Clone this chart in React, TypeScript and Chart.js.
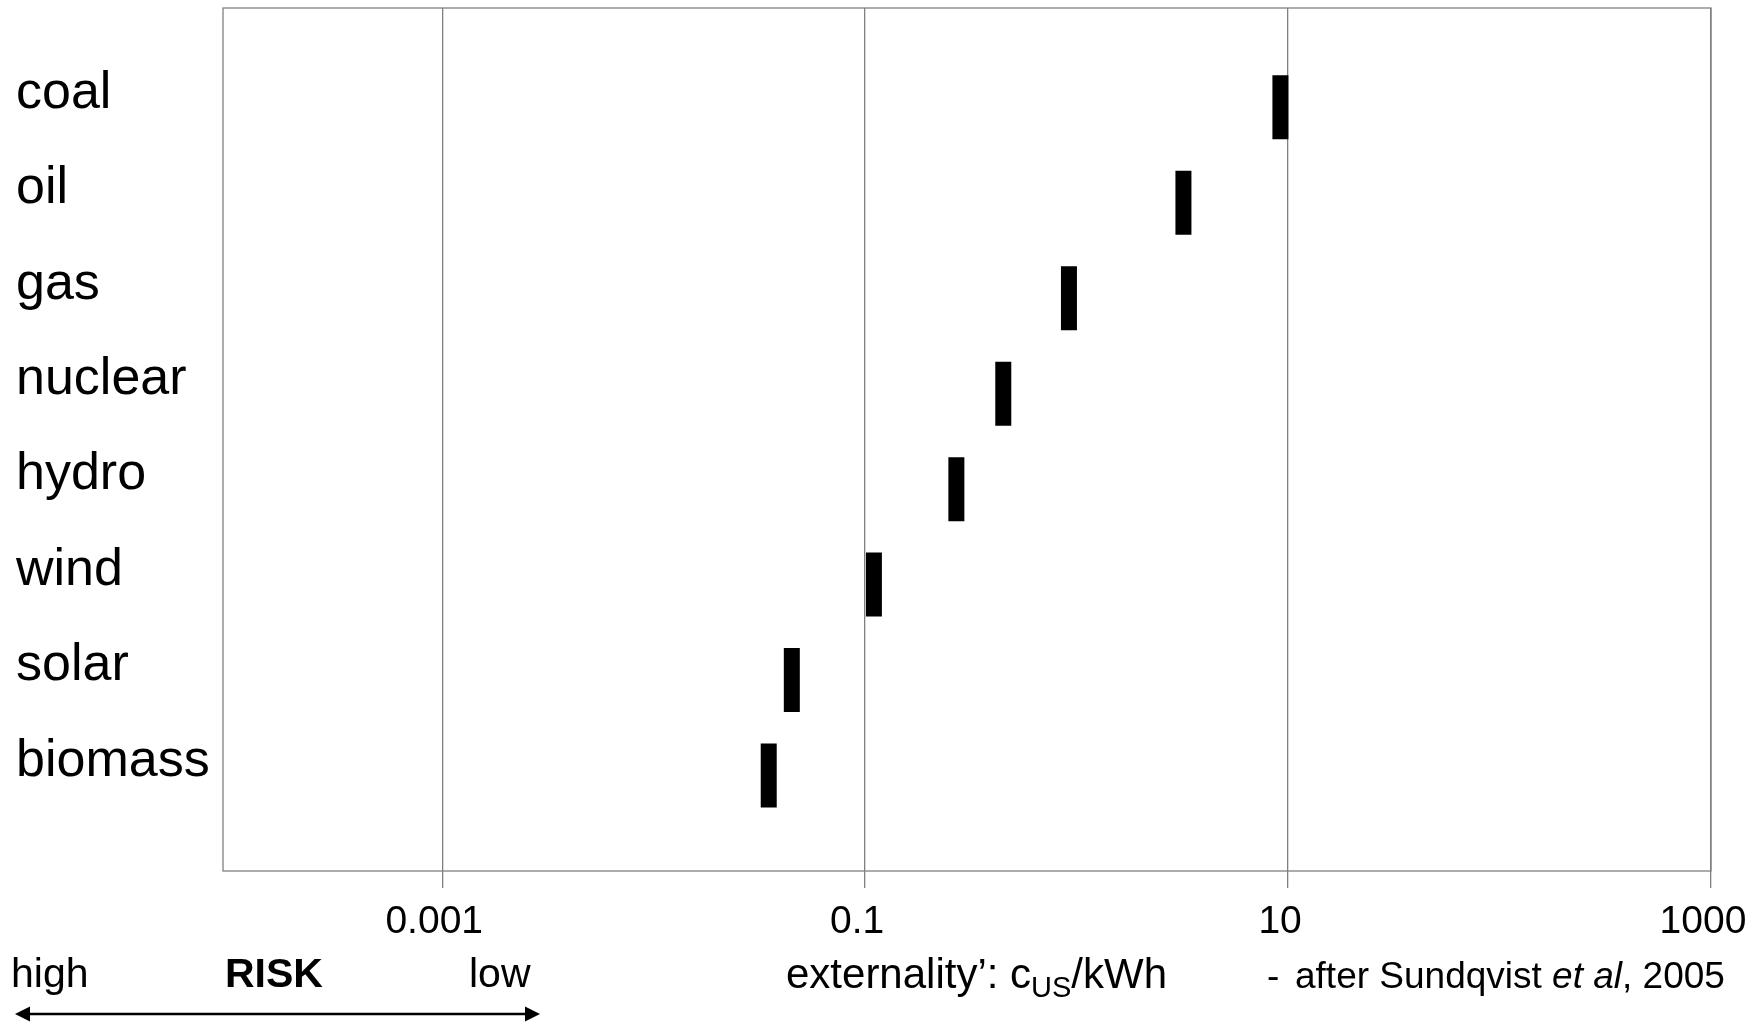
import React, { useEffect, useRef } from 'react';
import { Chart, registerables } from 'chart.js';

Chart.register(...registerables);

const FONT = '"Liberation Sans", Arial, Helvetica, sans-serif';

// Energy sources (top to bottom)
const categories = ['coal', 'oil', 'gas', 'nuclear', 'hydro', 'wind', 'solar', 'biomass'];
// External cost, US cents per kWh (log scale)
const externality = [9.2, 3.2, 0.92, 0.45, 0.27, 0.11, 0.045, 0.035];
// X-axis ticks
const xTickValues = [0.001, 0.1, 10, 1000];
const xTickLabels = ['0.001', '0.1', '10', '1000'];

const annotationPlugin = {
  id: 'annotations',
  beforeDatasetsDraw(chart: any) {
    const { ctx, chartArea } = chart;
    ctx.save();
    ctx.strokeStyle = '#808080';
    ctx.lineWidth = 1.3;
    ctx.strokeRect(chartArea.left, chartArea.top, chartArea.right - chartArea.left, chartArea.bottom - chartArea.top);
    ctx.restore();
  },
  afterDraw(chart: any) {
    const ctx = chart.ctx;
    ctx.save();
    ctx.fillStyle = '#000';
    ctx.textAlign = 'left';

    // category labels, placed through the y scale (text sits a little above its marker)
    const ys = chart.scales.y;
    ctx.textBaseline = 'middle';
    ctx.font = `52px ${FONT}`;
    categories.forEach((c, i) => {
      ctx.fillText(c, 16, ys.getPixelForValue(i) - 14);
    });

    ctx.textBaseline = 'alphabetic';
    ctx.font = `41px ${FONT}`;
    ctx.fillText('high', 11, 987);
    ctx.font = `bold 41px ${FONT}`;
    ctx.fillText('RISK', 225, 987);
    ctx.font = `41px ${FONT}`;
    ctx.fillText('low', 469, 987);

    // double-headed arrow
    const ay = 1014;
    const x0 = 15;
    const x1 = 540;
    ctx.strokeStyle = '#000';
    ctx.lineWidth = 2.5;
    ctx.beginPath();
    ctx.moveTo(x0 + 12, ay);
    ctx.lineTo(x1 - 12, ay);
    ctx.stroke();
    ctx.beginPath();
    ctx.moveTo(x0, ay);
    ctx.lineTo(x0 + 15, ay - 7.5);
    ctx.lineTo(x0 + 15, ay + 7.5);
    ctx.closePath();
    ctx.fill();
    ctx.beginPath();
    ctx.moveTo(x1, ay);
    ctx.lineTo(x1 - 15, ay - 7.5);
    ctx.lineTo(x1 - 15, ay + 7.5);
    ctx.closePath();
    ctx.fill();

    // axis title with subscript
    let x = 786;
    ctx.font = `42px ${FONT}`;
    const t1 = 'externality\u2019: c';
    ctx.fillText(t1, x, 988);
    x += ctx.measureText(t1).width;
    ctx.font = `29px ${FONT}`;
    ctx.fillText('US', x, 997);
    x += ctx.measureText('US').width;
    ctx.font = `42px ${FONT}`;
    ctx.fillText('/kWh', x, 988);

    // source
    ctx.font = `37px ${FONT}`;
    ctx.fillText('-', 1267, 988);
    x = 1295;
    const s1 = 'after Sundqvist ';
    ctx.fillText(s1, x, 988);
    x += ctx.measureText(s1).width;
    ctx.font = `italic 37px ${FONT}`;
    ctx.fillText('et al', x, 988);
    x += ctx.measureText('et al').width;
    ctx.font = `37px ${FONT}`;
    ctx.fillText(', 2005', x, 988);
    ctx.restore();
  },
};

export default function App() {
  const canvasRef = useRef<HTMLCanvasElement | null>(null);

  useEffect(() => {
    const canvas = canvasRef.current;
    if (!canvas) return;
    const points = categories.map((_, i) => ({ x: externality[i], y: i }));
    const chart = new Chart(canvas, {
      type: 'scatter',
      data: {
        datasets: [
          {
            label: 'externality',
            data: points,
            xAxisID: 'x',
            yAxisID: 'y',
            showLine: false,
            pointStyle: 'line',
            pointRotation: 90,
            pointRadius: 32,
            pointHoverRadius: 32,
            pointBorderWidth: 16,
            pointHoverBorderWidth: 16,
            pointBorderColor: '#000',
            pointBackgroundColor: '#000',
          } as any,
        ],
      },
      options: {
        animation: false,
        responsive: false,
        devicePixelRatio: 1,
        layout: { autoPadding: false, padding: { left: 223, top: 8, right: 50, bottom: 72 } },
        plugins: { legend: { display: false }, tooltip: { enabled: false } },
        events: [],
        scales: {
          x: {
            type: 'logarithmic',
            position: 'bottom',
            bounds: 'data',
            min: 9.19e-5,
            max: 1000,
            afterBuildTicks: (s: any) => {
              s.ticks = xTickValues.map((v) => ({ value: v }));
            },
            afterFit: (s: any) => {
              s.height = 80;
              s.paddingLeft = 0;
              s.paddingRight = 0;
            },
            ticks: {
              autoSkip: false,
              maxRotation: 0,
              minRotation: 0,
              padding: 11,
              labelOffset: -8,
              color: '#000',
              font: { family: FONT, size: 39 },
              callback: (v: any) => {
                const i = xTickValues.findIndex((t) => Math.abs(t - Number(v)) < t * 1e-6);
                return i >= 0 ? xTickLabels[i] : '';
              },
            },
            grid: { color: '#808080', lineWidth: 1.3, tickLength: 17, drawTicks: true },
            border: { display: false },
          },
          y: {
            type: 'linear',
            position: 'left',
            display: false,
            reverse: true,
            bounds: 'data',
            min: -1.04,
            max: 8,
          },
        } as any,
      },
      plugins: [annotationPlugin],
    });
    return () => chart.destroy();
  }, []);

  return (
    <div style={{ position: 'fixed', left: 0, top: 0, width: 1761, height: 1023, background: '#fff' }}>
      <canvas ref={canvasRef} width={1761} height={1023} style={{ display: 'block' }} />
    </div>
  );
}
